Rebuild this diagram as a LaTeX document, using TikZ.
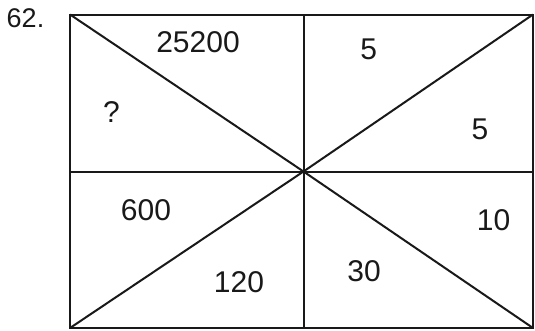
\documentclass[tikz,border=0pt]{standalone}
\usepackage{fontspec}
\setmainfont{Liberation Sans}
\begin{document}
\begin{tikzpicture}[x=1pt,y=-1pt,
  edge/.style={line width=2pt, draw=black!90},
  num/.style={inner sep=0pt, font=\fontsize{30}{30}\selectfont, text=black!90},
  lbl/.style={inner sep=0pt, font=\fontsize{27}{27}\selectfont, text=black!90}]
\useasboundingbox (0,0) rectangle (535,330);
\coordinate (tl) at (70,14.5);
\coordinate (tr) at (533,14.5);
\coordinate (bl) at (70,328);
\coordinate (br) at (533,328);
\coordinate (c) at (303.5,171.5);
\coordinate (tm) at (303.5,14.5);
\coordinate (bm) at (303.5,328);
\coordinate (lm) at (70,171.5);
\coordinate (rm) at (533,171.5);
\draw[edge] (tl) rectangle (br);
\draw[edge] (tm) -- (bm);
\draw[edge] (lm) -- (rm);
\draw[edge] (tl) -- (c) -- (br);
\draw[edge] (tr) -- (c) -- (bl);
\node[lbl] (q) at (25.5,18) {62.};
\node[num] (a) at (198,42.5) {25200};
\node[num] (b) at (368.7,49) {5};
\node[num] (d) at (111.5,112.5) {?};
\node[num] (e) at (480,129) {5};
\node[num] (f) at (146,210) {600};
\node[num] (g) at (493.5,220) {10};
\node[num] (h) at (239,282) {120};
\node[num] (i) at (364,271) {30};
\end{tikzpicture}
\end{document}
